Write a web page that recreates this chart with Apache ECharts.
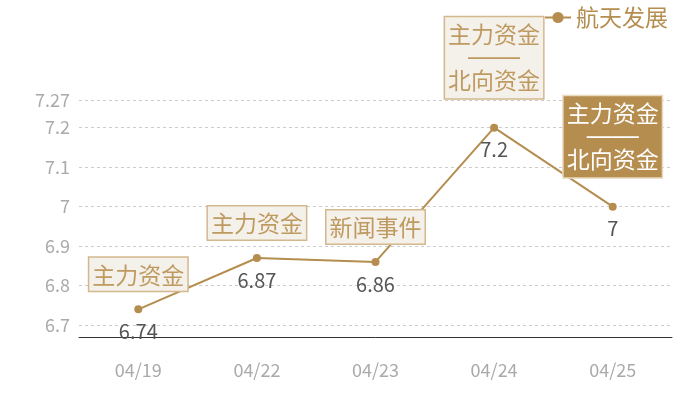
<!DOCTYPE html>
<html>
<head>
<meta charset="utf-8">
<script src="https://cdn.jsdelivr.net/npm/echarts@6/dist/echarts.min.js"></script>
<style>html,body{margin:0;padding:0;background:#fff}#c{width:700px;height:400px}</style>
</head>
<body>
<div id="c"></div>
<script>
const seriesName = '航天发展';
const categories = ['04/19', '04/22', '04/23', '04/24', '04/25'];
const values = [6.74, 6.87, 6.86, 7.2, 7];
const yMin = 6.67;
const yMax = 7.27;
const noteTexts = ['主力资金', '主力资金', '新闻事件', '主力资金\n——\n北向资金', '主力资金\n——\n北向资金'];
const noteHighlighted = [false, false, false, false, true];

const GOLD = '#b58d4f';
const FONT = 'Noto Sans CJK SC';

function richText(t) {
  return t.split('\n').map(s => s.indexOf('—') === 0 ? '{d|' + s + '}' : '{t|' + s + '}').join('\n');
}

const markData = categories.map((c, i) => {
  const multi = noteTexts[i].indexOf('\n') >= 0;
  const hi = noteHighlighted[i];
  const col = hi ? '#ffffff' : '#bf9a60';
  return {
    coord: [c, values[i]],
    value: noteTexts[i],
    symbol: 'circle',
    symbolSize: 0,
    label: {
      show: true,
      formatter: richText(noteTexts[i]),
      position: 'inside',
      offset: [0, multi ? -70 : -35],
      backgroundColor: hi ? GOLD : '#f4f0ea',
      borderColor: hi ? '#e9d9bd' : '#d3b88d',
      borderWidth: 1.5,
      padding: multi ? [6, 3, 6, 3] : [4, 3, 3, 3],
      align: 'center',
      verticalAlign: 'middle',
      rich: {
        t: { fontFamily: FONT, fontSize: 23, lineHeight: multi ? 23 : 26, color: col, align: 'center' },
        d: { fontFamily: 'Liberation Sans', fontSize: 26, lineHeight: 23, color: col, align: 'center' }
      }
    }
  };
});

const chart = echarts.init(document.getElementById('c'));
chart.setOption({
  animation: false,
  textStyle: { fontFamily: FONT },
  legend: {
    right: 27,
    top: 1,
    itemWidth: 26,
    itemHeight: 14,
    itemGap: 4,
    textStyle: { color: GOLD, fontSize: 23, fontFamily: FONT },
    data: [seriesName]
  },
  grid: { left: 79, right: 28, top: 100, bottom: 63 },
  xAxis: {
    type: 'category',
    data: categories,
    boundaryGap: true,
    axisLine: { lineStyle: { color: '#333', width: 1 } },
    axisTick: { show: false },
    axisLabel: { color: '#aaa', fontSize: 18, margin: 24, fontFamily: FONT }
  },
  yAxis: {
    type: 'value',
    min: yMin,
    max: yMax,
    axisLine: { show: false },
    axisTick: { show: false },
    axisLabel: { color: '#aaa', fontSize: 18, margin: 9, showMinLabel: false, fontFamily: FONT },
    splitLine: { lineStyle: { type: [3, 3], color: '#ccc', width: 1 } }
  },
  series: [{
    name: seriesName,
    type: 'line',
    data: values,
    symbol: 'circle',
    symbolSize: 8,
    itemStyle: { color: GOLD },
    lineStyle: { color: GOLD, width: 2 },
    label: {
      show: true,
      position: 'bottom',
      distance: 8,
      color: '#555',
      fontSize: 20,
      fontFamily: FONT
    },
    markPoint: {
      data: markData
    }
  }]
});
</script>
</body>
</html>
